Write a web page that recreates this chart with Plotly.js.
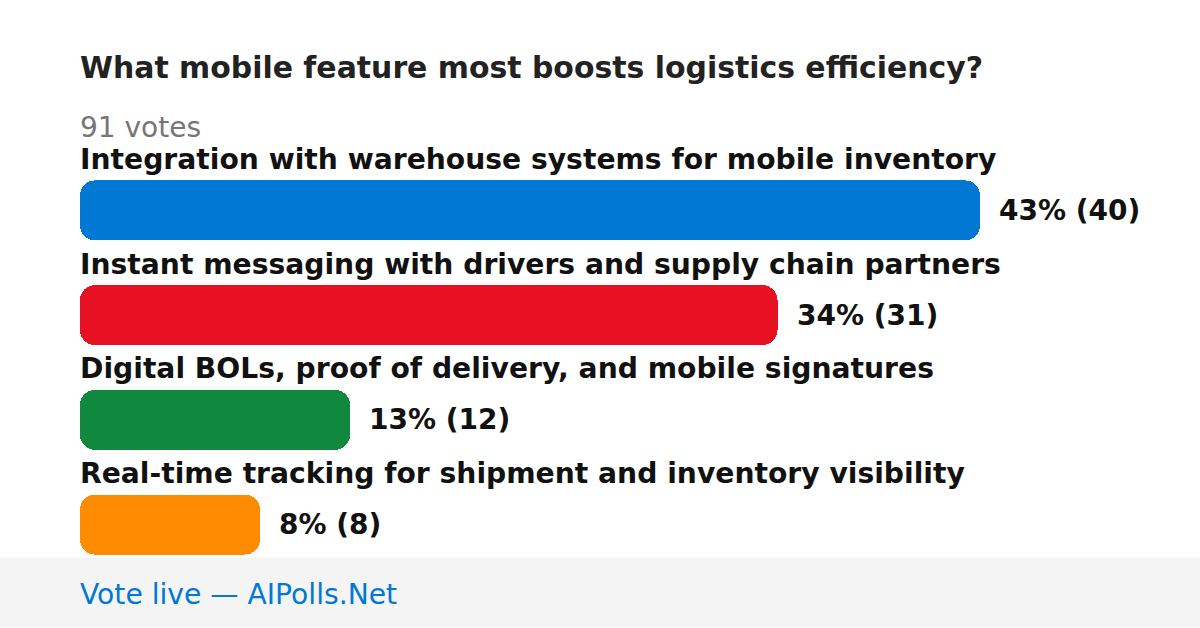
<!DOCTYPE html>
<html>
<head>
<meta charset="utf-8">
<script src="https://cdn.plot.ly/plotly-3.0.1.min.js"></script>
<style>html,body{margin:0;padding:0;background:#fff;}#chart{width:1200px;height:628px;}</style>
</head>
<body>
<div id="chart"></div>
<script>
var titleText = "What mobile feature most boosts logistics efficiency?";
var totalVotesText = "91 votes";
var footerText = "Vote live — AIPolls.Net";
var categories = [
  "Integration with warehouse systems for mobile inventory",
  "Instant messaging with drivers and supply chain partners",
  "Digital BOLs, proof of delivery, and mobile signatures",
  "Real-time tracking for shipment and inventory visibility"
];
var votes = [40, 31, 12, 8];
var percents = [43, 34, 13, 8];
var colors = ["#0078D4", "#E81123", "#10893E", "#FF8C00"];

var FONT = "DejaVu Sans, sans-serif";
var idx = categories.map(function(_, i){ return i; });
var zeros = votes.map(function(){ return 0; });

// Setting an explicit base makes Plotly round both ends of each bar.
var trace = {
  type: "bar", orientation: "h",
  base: zeros, x: votes, y: idx,
  width: 60/105,
  marker: {color: colors, cornerradius: 15, line: {width: 0}},
  hoverinfo: "skip", showlegend: false
};

var annotations = [];
categories.forEach(function(c, i){
  annotations.push({
    x: 0, y: i, xref: "x", yref: "y", text: "<b>" + c + "</b>",
    xanchor: "left", yanchor: "middle", yshift: 51, xshift: -2, showarrow: false,
    font: {family: FONT, size: 28.2, color: "#111111"}
  });
  annotations.push({
    x: votes[i], y: i, xref: "x", yref: "y",
    text: "<b>" + percents[i] + "% (" + votes[i] + ")</b>",
    xanchor: "left", yanchor: "middle", xshift: 17, showarrow: false,
    font: {family: FONT, size: 28, color: "#111111"}
  });
});
annotations.push({
  x: 0, y: (577.5 - 127) / 420, xref: "paper", yref: "paper", text: totalVotesText,
  xanchor: "left", yanchor: "middle", xshift: -2, showarrow: false,
  font: {family: FONT, size: 28, color: "#767676"}
});
annotations.push({
  x: 0, y: (577.5 - 595) / 420, xref: "paper", yref: "paper", text: footerText,
  xanchor: "left", yanchor: "middle", xshift: -2, showarrow: false,
  font: {family: FONT, size: 28.2, color: "#0078D4"}
});

var layout = {
  width: 1200, height: 628,
  margin: {l: 80, r: 220, t: 157.5, b: 50.5, pad: 0},
  paper_bgcolor: "#ffffff", plot_bgcolor: "rgba(0,0,0,0)",
  title: {
    text: "<b>" + titleText + "</b>",
    x: 0, xref: "paper", xanchor: "left",
    y: 1 - 67.5/628, yref: "container", yanchor: "middle",
    font: {family: FONT, size: 29.9, color: "#222222"}
  },
  xaxis: {range: [0, 40], visible: false, fixedrange: true},
  yaxis: {range: [3.5, -0.5], visible: false, fixedrange: true},
  shapes: [{
    type: "rect", xref: "paper", yref: "paper", layer: "below",
    x0: -80/900, x1: 1120/900, y0: (577.5 - 628) / 420, y1: (577.5 - 558) / 420,
    fillcolor: "#F4F4F4", line: {width: 0}
  }],
  annotations: annotations,
  bargap: 0
};

Plotly.newPlot("chart", [trace], layout, {displayModeBar: false, staticPlot: true});
</script>
</body>
</html>
